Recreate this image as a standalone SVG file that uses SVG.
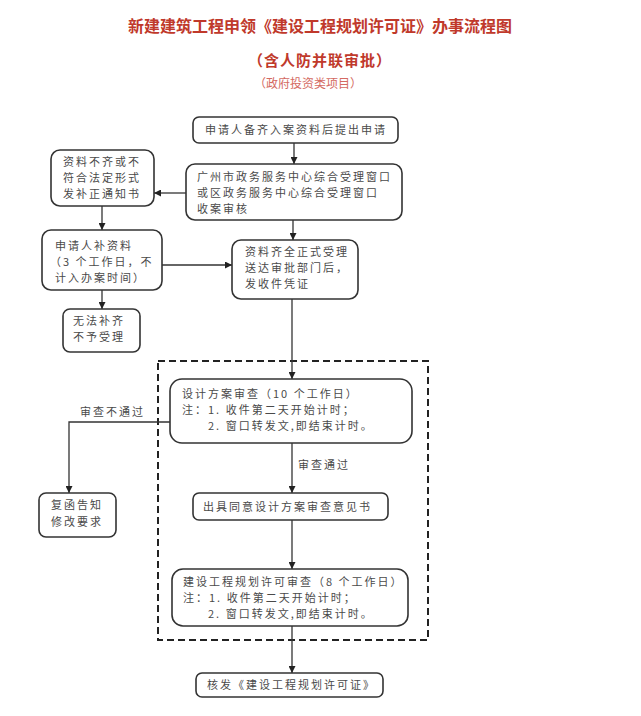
<svg xmlns="http://www.w3.org/2000/svg" width="641" height="716" viewBox="0 0 641 716">
<style>
.t{font-family:"Noto Sans CJK SC","Noto Sans CJK JP",sans-serif;font-size:11px;fill:#4a4a4a;letter-spacing:2px}
.box{fill:#fff;stroke:#333;stroke-width:1.6}
.ln{fill:none;stroke:#333;stroke-width:1.3}
.h1{font-family:"Noto Sans CJK SC",sans-serif;font-size:16px;font-weight:bold;fill:#c0392b;text-anchor:middle}
.h2{font-family:"Noto Sans CJK SC",sans-serif;font-size:15px;font-weight:bold;fill:#c0392b;text-anchor:middle;letter-spacing:1px}
.h3{font-family:"Noto Sans CJK SC",sans-serif;font-size:12px;fill:#d46a62;text-anchor:middle}
</style>
<defs>
<marker id="ar" viewBox="0 0 10 10" refX="10" refY="5" markerWidth="7" markerHeight="7" orient="auto" markerUnits="userSpaceOnUse">
<path d="M0,0 L10,5 L0,10 z" fill="#222"/>
</marker>
</defs>
<rect width="641" height="716" fill="#fff"/>
<g id="title">
<text class="h1" x="320" y="32">新建建筑工程申领《建设工程规划许可证》办事流程图</text>
<text class="h2" x="320" y="66">（含人防并联审批）</text>
<text class="h3" x="308" y="88">（政府投资类项目）</text>
</g>
<rect id="scope" x="158" y="361" width="270" height="279" fill="none" stroke="#222" stroke-width="2" stroke-dasharray="7,4"/>
<g id="connectors">
<line class="ln" x1="294" y1="143" x2="294" y2="164" marker-end="url(#ar)"/>
<line class="ln" x1="186" y1="193" x2="154" y2="193" marker-end="url(#ar)"/>
<line class="ln" x1="102" y1="206" x2="102" y2="230" marker-end="url(#ar)"/>
<line class="ln" x1="293" y1="220" x2="293" y2="240" marker-end="url(#ar)"/>
<line class="ln" x1="162" y1="265" x2="232" y2="265" marker-end="url(#ar)"/>
<line class="ln" x1="102" y1="290" x2="102" y2="309" marker-end="url(#ar)"/>
<line class="ln" x1="292" y1="299" x2="292" y2="379" marker-end="url(#ar)"/>
<polyline class="ln" points="170,422 69,422 69,493" marker-end="url(#ar)"/>
<line class="ln" x1="292" y1="443" x2="292" y2="493" marker-end="url(#ar)"/>
<line class="ln" x1="292" y1="520" x2="292" y2="569" marker-end="url(#ar)"/>
<line class="ln" x1="292" y1="626" x2="292" y2="673" marker-end="url(#ar)"/>
<text class="t" x="80" y="416">审查不通过</text>
<text class="t" x="298" y="469">审查通过</text>
</g>
<g id="n1">
<rect class="box" x="193" y="117" width="205" height="26" rx="6"/>
<text class="t" x="205" y="134">申请人备齐入案资料后提出申请</text>
</g>
<g id="n2">
<rect class="box" x="186" y="164" width="216" height="56" rx="9"/>
<text class="t" x="197" y="181">广州市政务服务中心综合受理窗口</text>
<text class="t" x="197" y="197">或区政务服务中心综合受理窗口</text>
<text class="t" x="197" y="213">收案审核</text>
</g>
<g id="n3">
<rect class="box" x="51" y="150" width="103" height="56" rx="9"/>
<text class="t" x="63" y="166">资料不齐或不</text>
<text class="t" x="63" y="182">符合法定形式</text>
<text class="t" x="63" y="198">发补正通知书</text>
</g>
<g id="n4">
<rect class="box" x="42" y="230" width="120" height="60" rx="9"/>
<text class="t" x="55" y="250">申请人补资料</text>
<text class="t" x="50" y="266">（3 个工作日，不</text>
<text class="t" x="55" y="282">计入办案时间）</text>
</g>
<g id="n5">
<rect class="box" x="232" y="240" width="126" height="59" rx="9"/>
<text class="t" x="245" y="256">资料齐全正式受理</text>
<text class="t" x="245" y="272">送达审批部门后，</text>
<text class="t" x="245" y="288">发收件凭证</text>
</g>
<g id="n6">
<rect class="box" x="63" y="309" width="77" height="43" rx="7"/>
<text class="t" x="73" y="325">无法补齐</text>
<text class="t" x="73" y="341">不予受理</text>
</g>
<g id="n7">
<rect class="box" x="170" y="379" width="242" height="64" rx="12"/>
<text class="t" x="182" y="398">设计方案审查（10 个工作日）</text>
<text class="t" x="182" y="414">注：1. 收件第二天开始计时；</text>
<text class="t" x="208" y="430">2. 窗口转发文,即结束计时。</text>
</g>
<g id="n8">
<rect class="box" x="39" y="493" width="77" height="44" rx="7"/>
<text class="t" x="51" y="509">复函告知</text>
<text class="t" x="51" y="526">修改要求</text>
</g>
<g id="n9">
<rect class="box" x="193" y="493" width="195" height="27" rx="6"/>
<text class="t" x="203" y="511">出具同意设计方案审查意见书</text>
</g>
<g id="n10">
<rect class="box" x="172" y="569" width="236" height="57" rx="11"/>
<text class="t" x="183" y="586">建设工程规划许可审查（8 个工作日）</text>
<text class="t" x="183" y="602">注：1. 收件第二天开始计时；</text>
<text class="t" x="208" y="618">2. 窗口转发文,即结束计时。</text>
</g>
<g id="n11">
<rect class="box" x="196" y="673" width="187" height="24" rx="6"/>
<text class="t" x="207" y="689">核发《建设工程规划许可证》</text>
</g>
</svg>
